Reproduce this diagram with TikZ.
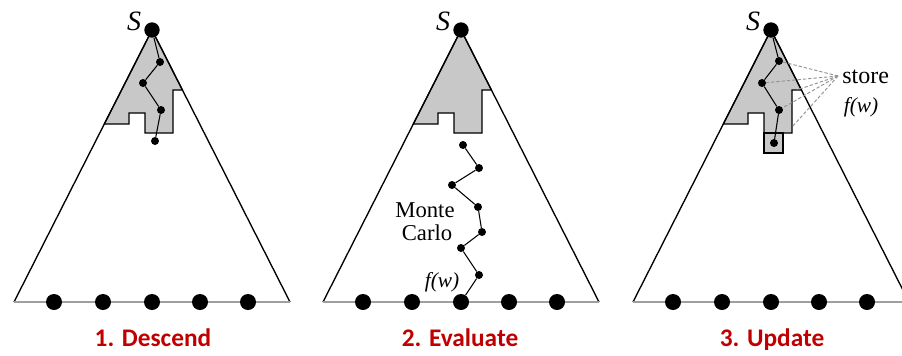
\documentclass[tikz,border=0pt]{standalone}
\usepackage{fontspec}
\setmainfont{Liberation Serif}
\newfontfamily\tnr{Liberation Serif}
\newfontfamily\labelfont{Carlito}
\definecolor{lblred}{RGB}{192,0,0}
\definecolor{regiongray}{RGB}{200,200,200}
\tikzset{
  side/.style={line width=1pt, draw=black},
  baseedge/.style={line width=1.2pt, draw=gray!75},
  region/.style={fill=regiongray, draw=black, line width=0.9pt, line join=miter},
  bigdot/.style={circle, fill=black, inner sep=0pt, minimum size=12pt},
  topdot/.style={circle, fill=black, inner sep=0pt, minimum size=11.5pt},
  smalldot/.style={circle, fill=black, inner sep=0pt, minimum size=6pt},
  walk/.style={line width=0.8pt, draw=black},
  storeline/.style={draw=gray!85, line width=0.7pt, dash pattern=on 2.5pt off 1.5pt},
  steplabel/.style={text=lblred, font=\labelfont\bfseries\fontsize{19}{23}\selectfont, anchor=base},
  slabel/.style={font=\tnr\fontsize{21}{24}\selectfont\itshape, inner sep=0pt},
  serifl/.style={font=\tnr\fontsize{17}{20}\selectfont, inner sep=0pt},
  fwlabel/.style={font=\tnr\fontsize{16}{19}\selectfont\itshape, inner sep=0pt, anchor=base}
}
\begin{document}
\begin{tikzpicture}[x=0.75pt,y=-0.75pt]
\useasboundingbox (0,0) rectangle (902,355);
\clip (0,0) rectangle (902,355);
\fill[white] (0,0) rectangle (902,355);

% ---------- Panel 1 ----------
\begin{scope}
  \draw[region] (152,30) -- (182.4,90) -- (173,90) -- (173,133) -- (145,133) -- (145,113)
     -- (129,113) -- (129,124) -- (104.3,124) -- cycle;
  \draw[side] (14,302) -- (152,30) -- (290,302);
  \draw[baseedge] (14,302) -- (290,302);
  \node[topdot] (a1) at (152,30) {};
  \node[smalldot] (a2) at (160,62) {};
  \node[smalldot] (a3) at (143,83) {};
  \node[smalldot] (a4) at (161,110) {};
  \node[smalldot] (a5) at (155,141) {};
  \draw[walk] (a1) -- (a2) -- (a3) -- (a4) -- (a5);
  \foreach \x [count=\i] in {54,103,152,200,248} \node[bigdot] (la\i) at (\x,302) {};
  \node[slabel] (sa) at (134,21) {S};
  \node[steplabel] (ta) at (153,346) {1. Descend};
\end{scope}

% ---------- Panel 2 ----------
\begin{scope}[xshift=231.75pt]
  \draw[region] (152,30) -- (182.4,90) -- (173,90) -- (173,133) -- (145,133) -- (145,113)
     -- (129,113) -- (129,124) -- (104.3,124) -- cycle;
  \draw[side] (14,302) -- (152,30) -- (290,302);
  \draw[baseedge] (14,302) -- (290,302);
  \node[topdot] (b0) at (152,30) {};
  \foreach \x [count=\i] in {54,103,152,200,248} \node[bigdot] (lb\i) at (\x,302) {};
  \node[smalldot] (b1) at (154,145) {};
  \node[smalldot] (b2) at (170,168) {};
  \node[smalldot] (b3) at (143,185) {};
  \node[smalldot] (b4) at (169,207) {};
  \node[smalldot] (b5) at (173,232) {};
  \node[smalldot] (b6) at (152,248) {};
  \node[smalldot] (b7) at (170,275) {};
  \draw[walk] (b1) -- (b2) -- (b3) -- (b4) -- (b5) -- (b6) -- (b7) -- (lb3);
  \node[slabel] (sb) at (134,21) {S};
  \node[serifl, anchor=base] (mc1) at (116,217) {Monte};
  \node[serifl, anchor=base] (mc2) at (118,240) {Carlo};
  \node[fwlabel] (fb) at (133,287) {f(w)};
  \node[steplabel] (tb) at (151,346) {2. Evaluate};
\end{scope}

% ---------- Panel 3 ----------
\begin{scope}[xshift=464.25pt]
  \draw[region] (152,30) -- (182.4,90) -- (173,90) -- (173,133) -- (145,133) -- (145,113)
     -- (129,113) -- (129,124) -- (104.3,124) -- cycle;
  \draw[region] (145,133) rectangle (164,153);
  \draw[side] (14,302) -- (152,30) -- (290,302);
  \draw[baseedge] (14,302) -- (290,302);
  \node[topdot] (c1) at (152,30) {};
  \node[smalldot] (c2) at (160,61) {};
  \node[smalldot] (c3) at (143,83) {};
  \node[smalldot] (c4) at (160,110) {};
  \node[smalldot] (c5) at (155,143) {};
  \draw[walk] (c1) -- (c2) -- (c3) -- (c4) -- (c5);
  \foreach \x [count=\i] in {54,103,152,200,248} \node[bigdot] (lc\i) at (\x,302) {};
  \node[slabel] (sc) at (134,21) {S};
  \node[serifl, font=\tnr\fontsize{18}{21}\selectfont, anchor=base west] (st) at (223,83) {store};
  \node[fwlabel] (fc) at (242,112) {f(w)};
  \coordinate (cv) at (219,76);
  \coordinate (k1) at (178,90);
  \coordinate (k2) at (173,127);
  \draw[storeline] (cv) -- (c2);
  \draw[storeline] (cv) -- (c3);
  \draw[storeline] (cv) -- (k1);
  \draw[storeline] (cv) -- (c4);
  \draw[storeline] (cv) -- (k2);
  \node[steplabel] (tc) at (153,346) {3. Update};
\end{scope}
\end{tikzpicture}
\end{document}
